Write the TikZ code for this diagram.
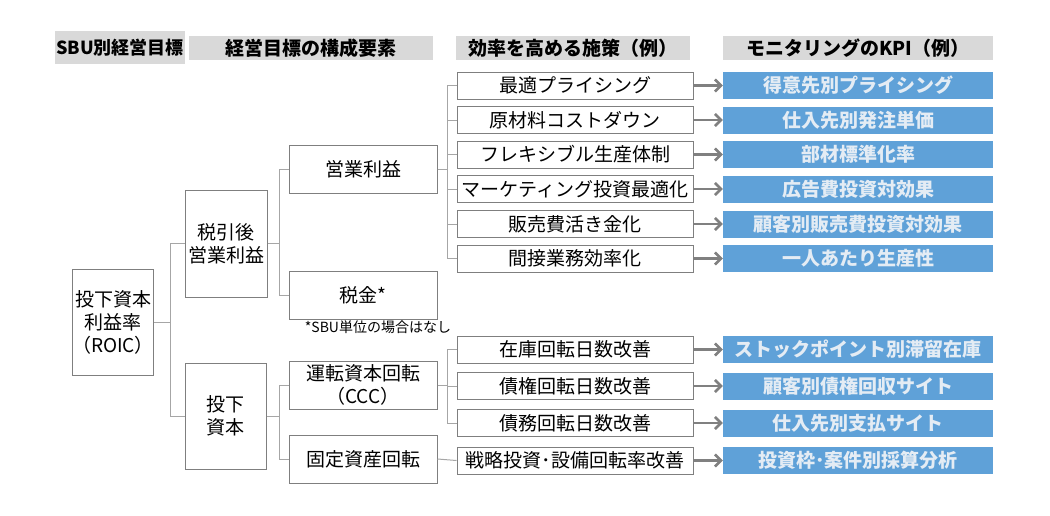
\documentclass[tikz,border=0pt]{standalone}
\usepackage{fontspec}
\setmainfont{Noto Sans CJK JP}
\usepackage{tikz}
\usetikzlibrary{arrows.meta}
\definecolor{hdrgray}{HTML}{D9D9D9}
\definecolor{boxgray}{HTML}{7F7F7F}
\definecolor{linegray}{HTML}{A6A6A6}
\definecolor{arrgray}{HTML}{808080}
\definecolor{kpiblue}{HTML}{5FA1D8}
\definecolor{kpitext}{HTML}{E4ECF4}

\begin{document}
\begin{tikzpicture}[x=1pt,y=-1pt,
        hdr/.style={fill=hdrgray, inner sep=0pt, font=\fontsize{19}{21}\selectfont\bfseries},
        box/.style={draw=boxgray, line width=1pt, fill=white, inner sep=0pt, align=center,
            minimum width=148pt, minimum height=48pt, font=\fontsize{19}{23}\selectfont},
        mbox/.style={box, minimum width=236pt, minimum height=27pt},
        kbox/.style={fill=kpiblue, text=kpitext, inner sep=0pt, minimum width=270pt,
            minimum height=27pt, font=\fontsize{19}{21}\selectfont\bfseries},
        conn/.style={draw=linegray, line width=1pt},
        kpiarrow/.style={draw=arrgray, line width=2.6pt, -{Straight Barb[length=6pt,width=12pt]}}]
    \useasboundingbox (0,0) rectangle (1050,515);
    \node[hdr, minimum width=130pt, minimum height=33pt, font=\fontsize{18}{20}\selectfont\bfseries] (hsbu) at (120,47.5) {SBU別経営目標};
    \node[hdr, minimum width=244pt, minimum height=24pt] (hcomp) at (311,48) {経営目標の構成要素};
    \node[hdr, minimum width=234pt, minimum height=24pt] (hmeas) at (573,48) {効率を高める施策（例）};
    \node[hdr, minimum width=270pt, minimum height=24pt] (hkpi) at (858,48) {モニタリングのKPI（例）};

    \node[box, minimum width=80pt, minimum height=106pt] (roic) at (113,322) {投下資本\\利益率\\（ROIC）};
    \node[box, minimum width=82pt, minimum height=107pt] (nopat) at (226,243.5) {税引後\\営業利益};
    \node[box, minimum width=81pt, minimum height=106pt] (ic) at (225.5,416) {投下\\資本};
    \node[box] (op) at (363,169.5) {営業利益};
    \node[box] (tax) at (363,295) {税金*};
    \node[font=\fontsize{14}{16}\selectfont] (note) at (378,327) {*SBU単位の場合はなし};
    \node[box] (wc) at (363,385) {運転資本回転\\（CCC）};
    \node[box] (fa) at (363,459) {固定資産回転};

    \foreach \i/\y/\m/\k in {1/85.5/最適プライシング/得意先別プライシング,
            2/120/原材料コストダウン/仕入先別発注単価,
            3/154.5/フレキシブル生産体制/部材標準化率,
            4/189/マーケティング投資最適化/広告費投資対効果,
            5/224/販売費活き金化/顧客別販売費投資対効果,
            6/258.5/間接業務効率化/一人あたり生産性,
            7/349.5/在庫回転日数改善/ストックポイント別滞留在庫,
            8/386/債権回転日数改善/顧客別債権回収サイト,
            9/423/債務回転日数改善/仕入先別支払サイト,
            10/460.5/戦略投資･設備回転率改善/投資枠･案件別採算分析} {
        \node[mbox] (m\i) at (575,\y) {\m};
        \node[kbox] (k\i) at (858,\y) {\k};
        \draw[kpiarrow] (m\i.east) -- (k\i.west);
    }

    \draw[conn] (roic.east) -- ++(16,0) |- (nopat.west);
    \draw[conn] (roic.east) -- ++(16,0) |- (ic.west);
    \draw[conn] (nopat.east) -- ++(12,0) |- (op.west);
    \draw[conn] (nopat.east) -- ++(12,0) |- (tax.west);
    \draw[conn] (ic.east) -- ++(13,0) |- (wc.west);
    \draw[conn] (ic.east) -- ++(13,0) |- (fa.west);
    \foreach \i in {1,...,6}
        \draw[conn] (op.east) -- ++(10,0) |- (m\i.west);
    \foreach \i in {7,8,9}
        \draw[conn] (wc.east) -- ++(10,0) |- (m\i.west);
    \draw[conn] (fa.east) -- (m10.west);
\end{tikzpicture}
\end{document}
